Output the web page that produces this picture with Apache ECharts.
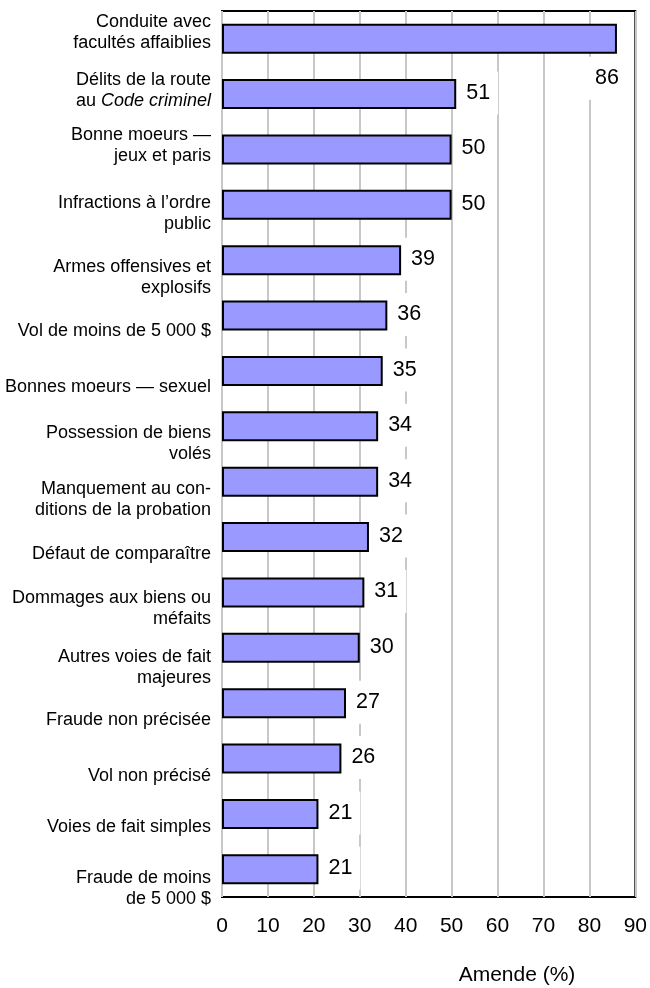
<!DOCTYPE html>
<html>
<head>
<meta charset="utf-8">
<script src="https://cdn.jsdelivr.net/npm/echarts@6/dist/echarts.min.js"></script>
<style>
html,body{margin:0;padding:0;background:#fff;}
#chart{width:650px;height:988px;}
</style>
</head>
<body>
<div id="chart"></div>
<script>
// ---- data ----
const categories = [
  'Conduite avec\nfacultés affaiblies',
  'Délits de la route\nau Code criminel',
  'Bonne moeurs —\njeux et paris',
  'Infractions à l’ordre\npublic',
  'Armes offensives et\nexplosifs',
  'Vol de moins de 5 000 $',
  'Bonnes moeurs — sexuel',
  'Possession de biens\nvolés',
  'Manquement au con-\nditions de la probation',
  'Défaut de comparaître',
  'Dommages aux biens ou\nméfaits',
  'Autres voies de fait\nmajeures',
  'Fraude non précisée',
  'Vol non précisé',
  'Voies de fait simples',
  'Fraude de moins\nde 5 000 $'
];
const values = [86, 51, 50, 50, 39, 36, 35, 34, 34, 32, 31, 30, 27, 26, 21, 21];
const xTicks = [0, 10, 20, 30, 40, 50, 60, 70, 80, 90];
const axisTitle = 'Amende (%)';

// ---- layout (vertical shift of each category label, px) ----
const labelShift = [-6, -4, -4, 9, 17, 15, 16, 17, 18, 17, 16, 20, 17, 17, 13, 19];

const FONT = "'Liberation Sans', Arial, Helvetica, sans-serif";

const yData = categories.map((c, i) => {
  const d = labelShift[i];
  const pad = d >= 0 ? [2 * d, 0, 0, 0] : [0, 0, -2 * d, 0];
  return { value: c, textStyle: { padding: pad } };
});

const valueLabel = {
  show: true,
  position: 'right',
  distance: 2,
  offset: [0, -1],
  color: '#000',
  fontSize: 21.5,
  fontFamily: FONT,
  lineHeight: 21,
  backgroundColor: '#fff',
  padding: [11, 8, 11, 8]
};

const seriesData = values.map((v, i) => {
  if (i === 0) {
    return {
      value: v,
      label: {
        position: ['100%', '100%'],
        align: 'right',
        verticalAlign: 'top',
        offset: [10, 3]
      }
    };
  }
  return v;
});

const chart = echarts.init(document.getElementById('chart'), null, { renderer: 'canvas' });
chart.setOption({
  animation: false,
  backgroundColor: '#fff',
  textStyle: { fontFamily: FONT },
  grid: {
    left: 222, right: 13, top: 11, bottom: 91,
    show: true,
    borderColor: '#000',
    borderWidth: 2,
    backgroundColor: 'transparent',
    containLabel: false
  },
  xAxis: {
    type: 'value',
    min: xTicks[0],
    max: xTicks[xTicks.length - 1],
    interval: xTicks[1] - xTicks[0],
    axisLine: { show: false },
    axisTick: { show: false },
    axisLabel: {
      color: '#000',
      fontSize: 21,
      fontFamily: FONT,
      margin: 19
    },
    splitLine: { show: true, lineStyle: { color: '#c8c8c8', width: 2 } }
  },
  yAxis: {
    type: 'category',
    inverse: true,
    data: yData,
    axisLine: { show: false },
    axisTick: { show: false },
    splitLine: { show: false },
    axisLabel: {
      interval: 0,
      hideOverlap: false,
      color: '#000',
      fontSize: 18,
      fontFamily: FONT,
      lineHeight: 21,
      margin: 11,
      align: 'right',
      formatter: (s) => s.replace('Code criminel', '{i|Code criminel}'),
      rich: {
        i: { fontStyle: 'italic', fontSize: 18, fontFamily: FONT, lineHeight: 21, color: '#000' }
      }
    }
  },
  graphic: [{
    type: 'text',
    x: 517,
    y: 975,
    style: {
      text: axisTitle,
      fontSize: 21,
      fontFamily: FONT,
      fill: '#000',
      align: 'center',
      verticalAlign: 'middle'
    }
  }],
  series: [{
    type: 'bar',
    data: seriesData,
    barWidth: 30,
    itemStyle: { color: '#9999ff', borderColor: '#000', borderWidth: 2 },
    label: valueLabel,
    z: 3
  }]
});
</script>
</body>
</html>
